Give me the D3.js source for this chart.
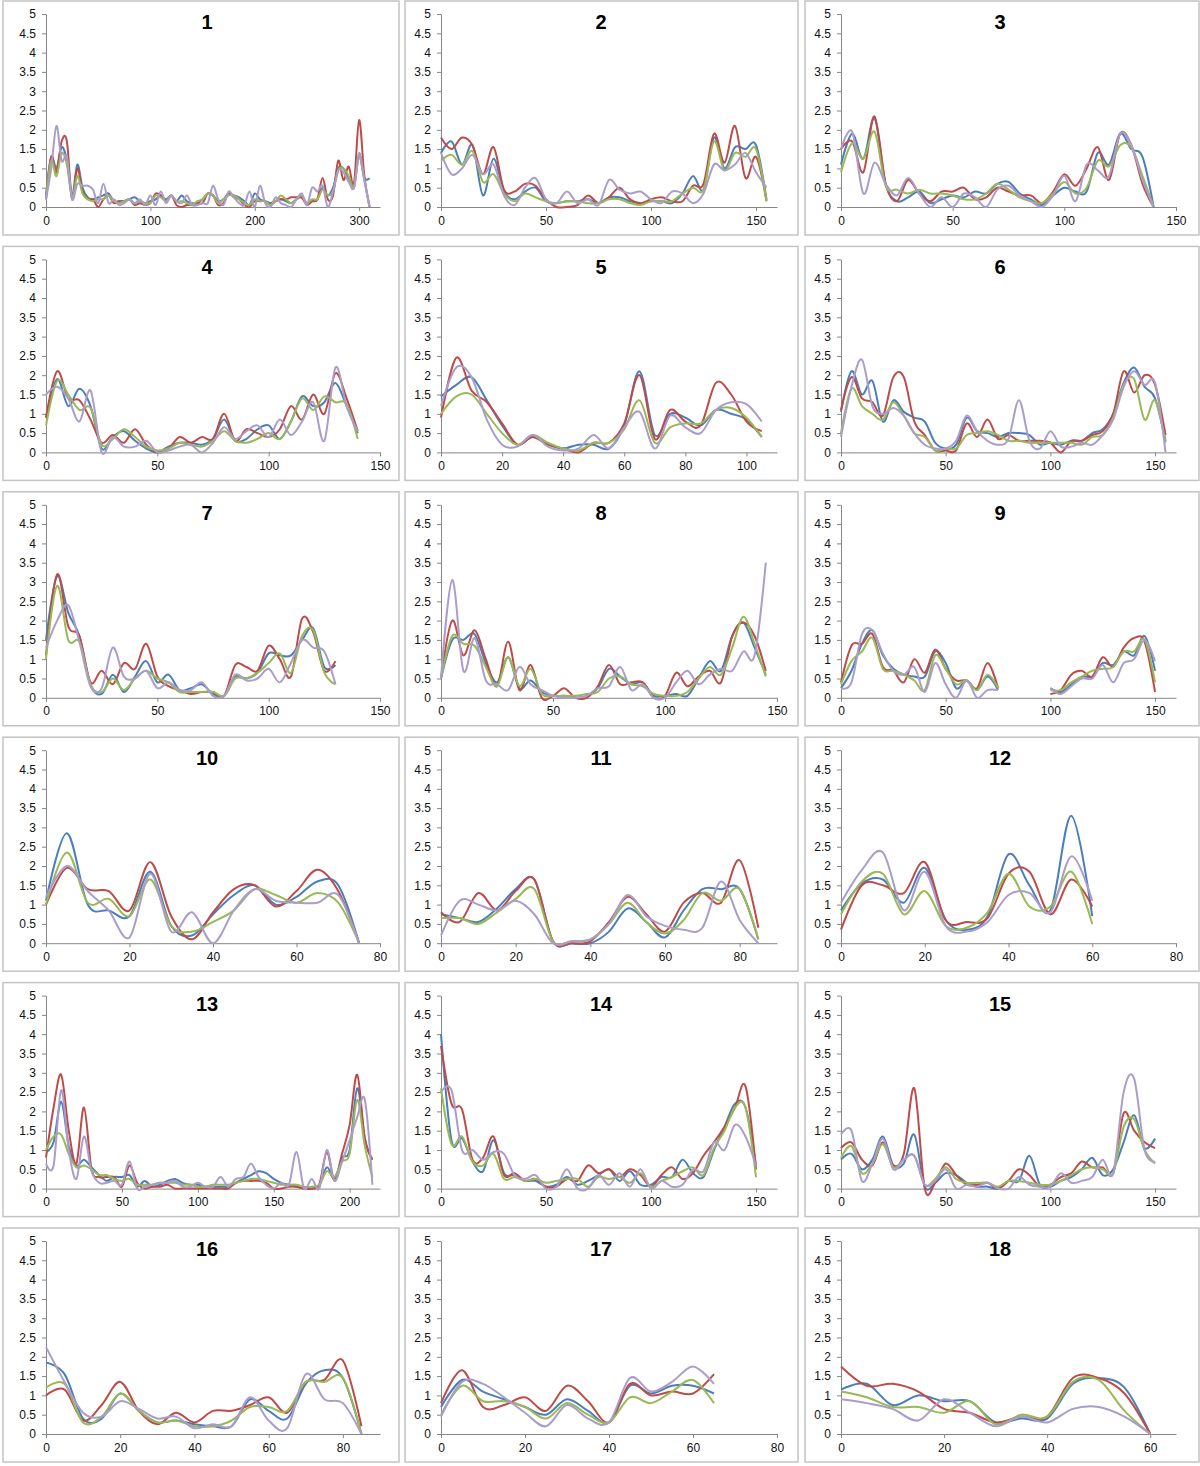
<!DOCTYPE html>
<html>
<head>
<meta charset="utf-8">
<script src="https://d3js.org/d3.v7.min.js"></script>
<style>
  body { margin: 0; background: #fff; }
  text { font-family: "Liberation Sans", Arial, sans-serif; }
</style>
</head>
<body>
<script>
// Panel titles, x-axis extent and tick step per panel (x samples every 5 units from 0)
var titles = ["1","2","3","4","5","6","7","8","9","10","11","12","13","14","15","16","17","18"];
var xMax = [320,160,150, 150,110,160, 150,150,160, 80,90,80, 220,160,160, 90,80,65];
var tickStep = [100,50,50, 50,20,50, 50,50,50, 20,20,20, 50,50,50, 20,20,20];
var yTicks = [0,0.5,1,1.5,2,2.5,3,3.5,4,4.5,5];

// Series values per panel
var blue = [
  [0.3,1.3,1.0,1.55,1.2,0.3,1.1,0.5,0.25,0.2,0.25,0.3,0.35,0.15,0.15,0.15,0.2,0.25,0.15,0.1,0.15,0.2,0.3,0.2,0.3,0.15,0.3,0.15,0.1,0.1,0.2,0.35,0.3,0.15,0.2,0.35,0.3,0.25,0.15,0.05,0.35,0.2,0.15,0.1,0.15,0.2,0.15,0.1,0.2,0.25,0.1,0.15,0.2,0.5,0.3,0.5,1.0,1.0,0.75,0.5,1.35,0.75,0.75],
  [1.4,1.7,1.1,1.6,0.3,1.25,0.4,0.2,0.4,0.5,0.15,0.1,0.15,0.15,0.2,0.1,0.25,0.25,0.15,0.1,0.15,0.15,0.1,0.35,0.8,0.45,1.8,1.0,1.55,1.5,1.6,0.2],
  [1.1,1.9,1.25,2.3,0.6,0.15,0.25,0.4,0.1,0.2,0.3,0.25,0.4,0.35,0.6,0.65,0.35,0.2,0.05,0.3,0.5,0.4,0.4,1.4,1.1,1.9,1.5,1.3,0.0],
  [0.9,1.9,1.2,1.65,1.2,0.1,0.4,0.55,0.3,0.1,0.0,0.15,0.25,0.25,0.2,0.35,0.85,0.3,0.35,0.6,0.7,0.35,0.8,1.45,1.2,1.3,1.8,1.2,0.5],
  [1.45,1.75,1.95,1.35,0.7,0.2,0.4,0.2,0.1,0.2,0.2,0.1,0.7,2.1,0.45,1.0,0.9,0.7,1.1,1.0,0.85,0.4],
  [1.05,2.1,1.5,1.85,0.8,1.35,1.05,0.9,0.8,0.25,0.1,0.2,0.9,0.55,0.5,0.4,0.5,0.5,0.45,0.2,0.25,0.2,0.3,0.3,0.5,0.6,1.0,1.8,2.2,1.7,1.4,0.3],
  [1.5,3.15,2.2,1.6,0.35,0.1,0.6,0.15,0.55,0.95,0.4,0.6,0.2,0.25,0.35,0.1,0.05,0.55,0.5,0.65,1.15,1.1,1.1,1.5,1.8,0.8,0.85],
  [0.5,1.5,1.5,1.65,0.9,0.4,1.05,0.25,0.45,0.15,0.05,0.05,0.0,0.05,0.25,0.75,0.55,0.35,0.4,0.05,0.05,0.1,0.05,0.5,0.95,0.7,1.6,1.95,1.3,0.6],
  [0.25,0.7,1.4,1.75,1.1,0.75,0.6,0.55,0.55,1.2,0.9,0.25,0.45,0.2,0.55,0.2,null,null,null,null,0.25,0.15,0.35,0.55,0.55,0.9,0.85,1.2,1.1,1.6,0.7],
  [1.1,2.85,1.0,0.85,0.7,1.85,0.45,0.2,0.75,1.25,1.5,1.0,1.2,1.6,1.5,0.0],
  [0.75,0.65,0.55,0.9,1.4,1.65,0.05,0.0,0.0,0.3,0.9,0.55,0.15,0.85,1.4,1.4,1.4,0.1],
  [0.85,1.55,1.65,1.05,1.95,0.6,0.35,0.7,2.3,1.5,0.85,3.3,0.7],
  [0.95,1.2,2.25,1.1,0.6,0.75,0.55,0.35,0.2,0.3,0.3,0.35,0.05,0.2,0.05,0.1,0.2,0.25,0.15,0.1,0.1,0.05,0.05,0.05,0.05,0.15,0.25,0.35,0.45,0.4,0.25,0.15,0.1,0.05,0.0,0.0,0.1,0.55,0.25,0.8,1.0,2.6,1.3,0.75],
  [4.0,1.25,1.3,0.7,0.45,1.25,0.4,0.35,0.2,0.2,0.05,0.1,0.3,0.1,0.2,0.35,0.5,0.2,0.45,0.1,0.1,0.3,0.3,0.75,0.4,0.3,1.0,1.6,2.2,2.1,0.6],
  [0.75,0.9,0.5,0.75,1.35,0.6,0.65,1.4,0.05,0.15,0.4,0.35,0.15,0.05,0.05,0.0,0.2,0.2,0.85,0.1,0.05,0.2,0.3,0.5,0.8,0.35,0.5,1.2,1.9,1.05,1.3],
  [1.85,1.55,0.4,0.4,1.05,0.6,0.3,0.35,0.25,0.2,0.2,0.9,0.6,0.4,1.3,1.65,1.45,0.0],
  [0.7,1.4,1.1,0.9,0.7,0.5,0.9,0.6,0.3,1.25,1.05,1.25,1.25,1.05],
  [1.15,1.3,0.75,1.0,0.85,0.85,0.3,0.4,0.4,1.3,1.45,1.2,0.0]
];
var red = [
  [0.2,1.3,0.9,1.7,1.7,0.2,1.0,0.4,0.2,0.2,0.0,0.2,0.3,0.1,0.15,0.15,0.2,0.05,0.1,0.05,0.1,0.35,0.3,0.15,0.3,0.05,0.0,0.05,0.05,0.1,0.1,0.35,0.3,0.05,0.1,0.35,0.25,0.2,0.05,0.0,0.15,0.15,0.15,0.05,0.15,0.2,0.2,0.25,0.25,0.25,0.05,0.15,0.2,0.75,0.2,0.3,1.2,0.7,1.05,0.6,2.25,0.8,0.0],
  [1.8,1.5,1.8,1.6,0.85,1.55,0.45,0.4,0.6,0.55,0.2,0.0,0.0,0.05,0.3,0.1,0.25,0.5,0.2,0.1,0.2,0.25,0.15,0.15,0.55,0.6,1.9,1.15,2.1,0.75,1.3,0.15],
  [1.5,1.7,0.9,2.35,0.6,0.15,0.7,0.35,0.15,0.4,0.4,0.5,0.2,0.25,0.5,0.4,0.3,0.3,0.1,0.4,0.85,0.55,1.0,1.55,0.7,1.9,1.6,0.6,0.0],
  [0.9,2.1,1.4,1.35,0.85,0.25,0.45,0.25,0.6,0.2,0.0,0.1,0.4,0.25,0.4,0.35,1.0,0.3,0.6,0.5,0.4,0.6,1.2,0.85,1.5,1.0,2.05,1.4,0.55],
  [0.9,2.45,1.6,1.3,0.75,0.2,0.4,0.2,0.1,0.0,0.25,0.25,0.75,2.0,0.35,1.1,0.8,0.7,1.8,1.5,0.8,0.55],
  [1.1,1.95,1.4,1.3,0.95,1.95,1.95,0.8,0.45,0.05,0.05,0.05,0.75,0.4,0.85,0.35,0.45,0.3,0.3,0.3,0.25,0.0,0.3,0.3,0.45,0.55,1.0,2.1,1.55,2.0,1.75,0.45],
  [1.1,3.2,1.85,1.6,0.4,0.7,0.35,0.9,0.75,1.4,0.55,0.3,0.2,0.1,0.15,0.15,0.05,0.85,0.8,0.7,1.35,1.0,0.55,2.05,1.7,0.7,0.95],
  [0.5,2.0,1.1,1.75,1.0,0.3,1.45,0.2,0.85,0.0,0.05,0.25,0.0,0.0,0.3,0.85,0.35,0.4,0.4,0.0,0.05,0.65,0.3,0.55,0.7,0.4,1.6,1.95,1.6,0.7],
  [0.4,1.35,1.4,1.65,0.8,0.7,0.4,1.0,0.65,1.25,0.75,0.45,0.45,0.25,0.9,0.25,null,null,null,null,0.1,0.2,0.6,0.7,0.55,1.05,0.8,1.3,1.55,1.45,0.15],
  [1.0,1.95,1.4,1.35,0.85,2.1,0.7,0.1,0.8,1.4,1.5,0.95,1.35,1.9,1.35,0.0],
  [0.8,0.55,1.3,0.85,1.35,1.65,0.05,0.0,0.05,0.55,1.2,0.75,0.3,1.05,1.3,1.05,2.15,0.4],
  [0.35,1.5,1.5,1.3,2.1,0.6,0.55,0.65,1.8,1.85,0.75,1.65,0.95],
  [0.8,2.1,2.95,1.5,0.65,2.1,0.5,0.3,0.3,0.3,0.05,0.6,0.15,0.0,0.05,0.05,0.1,0.0,0.0,0.0,0.0,0.0,0.0,0.0,0.0,0.15,0.2,0.2,0.2,0.15,0.0,0.0,0.05,0.05,0.0,0.0,0.1,0.95,0.2,0.9,1.65,2.95,1.3,0.75],
  [3.7,2.2,2.05,0.75,0.8,1.35,0.35,0.4,0.2,0.25,0.05,0.05,0.25,0.2,0.6,0.4,0.5,0.3,0.5,0.35,0.05,0.35,0.55,0.25,0.4,0.85,1.2,1.6,2.1,2.65,0.5],
  [1.05,1.2,0.75,0.6,1.2,0.6,0.9,2.6,0.0,0.15,0.65,0.35,0.1,0.1,0.15,0.0,0.2,0.5,0.35,0.05,0.1,0.3,0.4,0.7,0.55,0.55,0.4,1.95,1.5,1.2,1.05],
  [1.0,1.15,0.35,0.75,1.35,0.6,0.25,0.55,0.3,0.6,0.6,0.75,0.95,0.55,1.35,1.4,1.9,0.2],
  [0.8,1.65,0.7,0.75,0.95,0.6,1.25,0.85,0.3,1.3,1.0,1.1,1.05,1.55],
  [1.75,1.25,1.3,1.1,0.65,0.55,0.3,0.45,0.45,1.45,1.45,1.05,0.0]
];
var green = [
  [0.2,1.2,0.8,1.4,1.1,0.25,0.8,0.35,0.2,0.15,0.2,0.2,0.3,0.15,0.1,0.15,0.2,0.1,0.15,0.1,0.1,0.3,0.25,0.15,0.3,0.15,0.15,0.1,0.05,0.15,0.2,0.35,0.3,0.1,0.2,0.3,0.3,0.2,0.1,0.05,0.2,0.15,0.15,0.05,0.15,0.3,0.2,0.1,0.2,0.3,0.1,0.2,0.2,0.45,0.3,0.4,0.95,1.0,0.8,0.5,1.3,0.7,0.0],
  [1.2,1.35,1.1,1.45,0.65,0.85,0.35,0.15,0.35,0.25,0.15,0.1,0.15,0.15,0.1,0.1,0.2,0.2,0.1,0.05,0.15,0.15,0.15,0.35,0.5,0.45,1.7,0.95,1.4,1.3,1.5,0.15],
  [0.9,1.65,1.25,1.95,0.55,0.45,0.35,0.45,0.35,0.35,0.3,0.2,0.2,0.35,0.6,0.45,0.25,0.15,0.1,0.35,0.65,0.35,0.5,1.2,1.05,1.6,1.55,0.8,0.0],
  [0.7,1.85,1.5,1.1,1.15,0.2,0.35,0.6,0.4,0.15,0.05,0.1,0.25,0.2,0.15,0.3,0.55,0.3,0.25,0.35,0.5,0.35,0.8,1.4,1.1,1.45,1.3,1.25,0.35],
  [1.0,1.45,1.5,1.0,0.5,0.2,0.45,0.25,0.1,0.05,0.25,0.25,0.6,1.35,0.25,0.65,0.75,0.75,1.1,1.15,0.9,0.4],
  [0.5,1.65,1.2,1.0,0.85,1.3,0.95,0.5,0.4,0.05,0.1,0.1,0.45,0.5,0.55,0.45,0.3,0.3,0.25,0.25,0.25,0.25,0.25,0.2,0.4,0.45,0.9,1.75,1.9,0.85,1.35,0.25],
  [1.0,2.9,1.5,1.45,0.35,0.15,0.5,0.2,0.5,0.7,0.5,0.4,0.15,0.15,0.15,0.15,0.05,0.5,0.5,0.65,0.9,1.15,0.65,1.6,1.75,0.65,0.35],
  [0.5,1.6,1.4,1.35,0.8,0.3,1.05,0.3,0.75,0.1,0.05,0.05,0.05,0.1,0.15,0.5,0.55,0.35,0.3,0.1,0.05,0.05,0.15,0.5,0.8,0.6,1.3,2.1,1.4,0.55],
  [0.35,0.95,1.2,1.55,0.75,0.7,0.6,0.45,0.2,1.1,0.75,0.35,0.45,0.2,0.6,0.25,null,null,null,null,0.2,0.2,0.4,0.55,0.7,0.75,0.8,1.2,1.2,1.5,0.4],
  [1.0,2.35,1.05,1.15,0.7,1.65,0.45,0.3,0.55,0.85,1.4,1.25,1.05,1.3,1.05,0.0],
  [0.65,0.65,0.5,0.8,1.15,1.4,0.05,0.05,0.1,0.5,1.05,0.55,0.25,0.6,1.3,1.1,1.4,0.1],
  [0.75,1.6,1.8,0.75,1.35,0.45,0.4,0.8,1.8,0.95,0.95,1.85,0.5],
  [1.0,1.35,1.4,0.9,0.55,0.6,0.5,0.35,0.35,0.25,0.2,0.25,0.1,0.1,0.1,0.15,0.15,0.15,0.1,0.1,0.05,0.05,0.1,0.1,0.1,0.15,0.2,0.25,0.25,0.2,0.15,0.1,0.1,0.1,0.05,0.05,0.1,0.45,0.3,0.7,0.9,2.3,1.1,0.3],
  [2.6,1.15,1.35,0.7,0.6,0.9,0.25,0.3,0.2,0.25,0.15,0.2,0.25,0.25,0.05,0.3,0.25,0.3,0.15,0.4,0.05,0.2,0.3,0.45,0.55,0.35,1.05,1.5,2.1,2.1,0.3],
  [0.8,1.1,0.4,0.65,1.15,0.55,0.75,0.85,0.1,0.25,0.55,0.25,0.15,0.15,0.15,0.05,0.2,0.2,0.15,0.1,0.1,0.2,0.35,0.5,0.55,0.5,0.4,1.6,1.8,1.0,0.65],
  [1.2,1.3,0.3,0.45,1.05,0.6,0.3,0.35,0.2,0.2,0.35,0.7,0.7,0.6,1.35,1.35,1.45,0.0],
  [0.5,1.25,0.85,0.85,0.7,0.4,0.8,0.5,0.3,0.95,0.8,1.1,1.4,0.8],
  [1.1,0.95,0.7,0.7,0.55,0.85,0.25,0.5,0.45,1.35,1.4,0.6,0.0]
];
var purple = [
  [0.2,1.0,2.1,1.2,1.3,0.2,0.6,0.55,0.55,0.45,0.1,0.6,0.1,0.2,0.05,0.1,0.2,0.1,0.2,0.05,0.3,0.05,0.4,0.1,0.3,0.15,0.1,0.3,0.05,0.05,0.1,0.1,0.55,0.2,0.05,0.4,0.25,0.1,0.05,0.4,0.0,0.55,0.1,0.0,0.25,0.1,0.05,0.0,0.2,0.35,0.05,0.5,0.4,0.55,0.0,0.4,0.95,0.9,0.65,0.5,1.4,0.7,0.0],
  [1.4,0.85,1.0,1.35,0.85,1.1,0.3,0.05,0.5,0.75,0.2,0.1,0.4,0.1,0.2,0.05,0.7,0.45,0.35,0.4,0.2,0.1,0.4,0.35,0.1,0.35,1.1,0.95,1.1,1.4,0.9,0.5],
  [1.5,1.95,0.35,1.15,0.6,0.3,0.75,0.35,0.0,0.25,0.0,0.35,0.25,0.0,0.45,0.55,0.3,0.15,0.0,0.3,0.8,0.15,1.1,0.95,0.8,1.9,1.6,0.7,0.0],
  [1.5,1.7,1.4,0.8,1.6,0.0,0.4,0.15,0.15,0.3,0.0,0.05,0.15,0.2,0.0,0.25,0.65,0.35,0.55,0.7,0.4,0.85,0.45,0.8,1.3,0.3,2.2,1.2,0.55],
  [1.2,2.2,1.95,0.85,0.2,0.15,0.45,0.15,0.05,0.1,0.45,0.1,0.65,1.05,0.1,0.95,0.65,0.5,1.1,1.3,1.25,0.8],
  [0.4,1.7,2.4,1.2,1.0,1.15,0.95,0.5,0.2,0.1,0.1,0.3,0.95,0.55,0.3,0.2,0.35,1.35,0.3,0.1,0.55,0.15,0.15,0.25,0.2,0.45,0.85,1.7,2.1,1.75,1.8,0.0],
  [1.3,2.0,2.4,1.45,0.3,0.25,1.3,0.55,0.5,0.7,0.25,0.4,0.2,0.2,0.4,0.05,0.05,0.6,0.45,0.5,0.75,0.4,0.9,1.5,1.3,1.2,0.35],
  [0.5,3.05,0.7,1.55,0.45,0.35,0.2,0.8,0.35,0.2,0.05,0.0,0.0,0.05,0.25,0.3,0.8,0.2,0.35,0.0,0.0,0.4,0.7,0.35,0.6,0.75,0.7,1.2,1.1,3.5],
  [0.25,0.4,1.65,1.75,1.15,0.7,0.6,0.8,0.15,0.9,0.35,0.0,0.45,0.0,0.2,0.2,null,null,null,null,0.25,0.1,0.3,0.5,0.5,0.85,0.4,0.9,1.0,1.5,0.95],
  [1.2,2.0,1.35,0.85,0.15,1.8,0.3,0.8,0.0,0.85,1.4,1.1,1.05,1.05,1.25,0.0],
  [0.2,1.1,1.0,0.85,1.1,0.75,0.0,0.05,0.1,0.5,1.25,0.7,0.45,0.35,0.4,1.6,0.6,0.0],
  [1.05,1.9,2.35,0.85,1.85,0.45,0.3,0.55,1.25,1.3,0.8,2.25,1.1],
  [0.65,0.6,2.55,1.0,0.25,1.35,0.45,0.15,0.15,0.2,0.1,0.7,0.0,0.05,0.1,0.15,0.15,0.2,0.05,0.05,0.15,0.05,0.05,0.3,0.05,0.25,0.3,0.65,0.3,0.1,0.0,0.15,0.1,0.95,0.0,0.25,0.0,1.0,0.2,0.7,1.25,1.85,2.3,0.1],
  [2.5,2.55,1.0,1.0,0.75,0.95,0.9,0.35,0.25,0.35,0.0,0.05,0.5,0.0,0.0,0.35,0.1,0.4,0.05,0.5,0.0,0.2,0.05,0.1,0.5,0.45,1.2,1.0,1.65,1.35,0.6],
  [1.4,1.5,0.2,0.65,1.3,0.5,0.75,0.85,0.1,0.2,0.5,0.0,0.1,0.05,0.15,0.0,0.0,0.3,0.1,0.05,0.05,0.4,0.15,0.2,0.3,0.75,0.4,2.5,2.85,1.0,0.7],
  [2.25,1.35,0.55,0.45,0.85,0.65,0.4,0.45,0.15,0.25,0.2,0.95,0.35,0.15,1.55,0.9,0.8,0.0],
  [0.45,1.35,1.3,0.95,0.55,0.2,0.75,0.4,0.3,1.45,1.1,1.35,1.75,1.3],
  [0.9,0.8,0.65,0.35,0.9,0.55,0.2,0.45,0.3,0.65,0.7,0.45,0.0]
];

var seriesList = [blue, red, green, purple];
var colors = ["#4A7EBB", "#BE4B48", "#98B954", "#AA9CCB"];

// Layout of the 3 x 6 grid
var width = 1200, height = 1466;
var colLeft = [46, 441, 841], colRight = [380, 777, 1176];
var boxX = [3, 405, 805], boxW = [396, 393, 394];
var titleX = [207, 601, 1000];
var rowTop = function(r) { return 14 + r * 245.4; };
var plotH = 193;

var svg = d3.select("body").append("svg")
    .attr("width", width)
    .attr("height", height);

svg.append("rect").attr("width", width).attr("height", height).attr("fill", "#fff");

titles.forEach(function(t, i) {
  var r = Math.floor(i / 3), c = i % 3;
  var top = rowTop(r);
  var g = svg.append("g");

  // panel frame
  g.append("rect")
      .attr("x", boxX[c])
      .attr("y", top - 13)
      .attr("width", boxW[c])
      .attr("height", 234)
      .attr("fill", "none")
      .attr("stroke", "#c4c4c4")
      .attr("stroke-width", 1.5);

  var x = d3.scaleLinear().domain([0, xMax[i]]).range([colLeft[c], colRight[c]]);
  var y = d3.scaleLinear().domain([0, 5]).range([top + plotH, top]);

  var xt = d3.range(0, xMax[i] + 0.001, tickStep[i]);

  var xAxis = g.append("g")
      .attr("transform", "translate(0," + (top + plotH) + ")")
      .call(d3.axisBottom(x).tickValues(xt).tickSize(4).tickSizeOuter(0).tickPadding(5).tickFormat(d3.format("d")));
  var yAxis = g.append("g")
      .attr("transform", "translate(" + colLeft[c] + ",0)")
      .call(d3.axisLeft(y).tickValues(yTicks).tickSize(4).tickSizeOuter(0).tickPadding(6).tickFormat(function(d) { return String(d); }));

  [xAxis, yAxis].forEach(function(a) {
    a.select(".domain").attr("stroke", "#868686");
    a.selectAll(".tick line").attr("stroke", "#868686");
    a.selectAll(".tick text").attr("fill", "#111").style("font-size", "12px")
        .style("font-family", "'Liberation Sans', Arial, sans-serif");
  });

  // title
  g.append("text")
      .attr("x", titleX[c])
      .attr("y", top + 15)
      .attr("text-anchor", "middle")
      .style("font-size", "20px")
      .style("font-weight", "bold")
      .attr("fill", "#000")
      .text(t);

  var line = d3.line()
      .defined(function(d) { return d[1] != null; })
      .x(function(d) { return x(d[0]); })
      .y(function(d) { return y(d[1]); })
      .curve(d3.curveCardinal.tension(0));

  seriesList.forEach(function(s, k) {
    var pts = s[i].map(function(v, j) { return [j * 5, v]; });
    g.append("path")
        .datum(pts)
        .attr("fill", "none")
        .attr("stroke", colors[k])
        .attr("stroke-width", 2)
        .attr("stroke-linejoin", "round")
        .attr("d", line);
  });
});
</script>
</body>
</html>
